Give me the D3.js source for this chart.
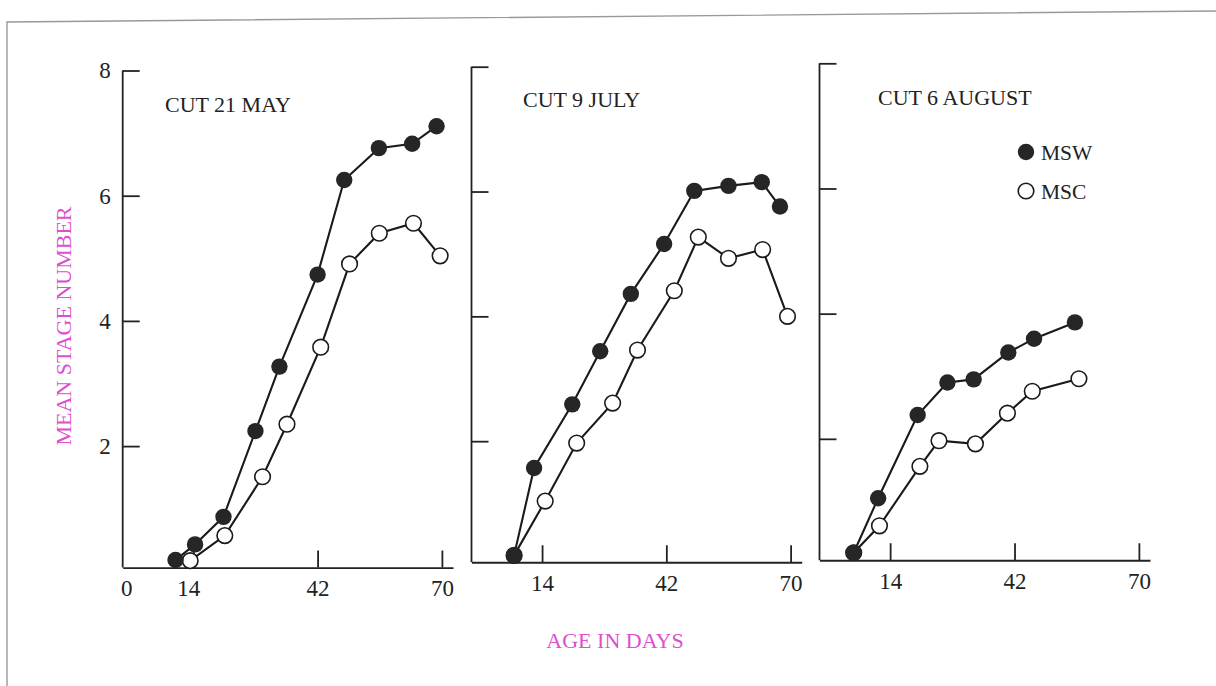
<!DOCTYPE html>
<html>
<head>
<meta charset="utf-8">
<script src="https://cdn.jsdelivr.net/npm/d3@7/dist/d3.min.js"></script>
<style>
body { margin: 0; background: #fff; }
text { font-family: "Liberation Serif", "DejaVu Serif", serif; }
.axis path, .axis line { stroke: #222; stroke-width: 1.8; }
.axis text { font-size: 23px; fill: #222; }
.title { font-size: 22px; fill: #222; }
.legend { font-size: 21.5px; fill: #222; }
.axlabel { font-size: 22px; fill: #dd4fce; }
</style>
</head>
<body>
<svg width="1216" height="686"></svg>
<script>
// values: age in days, mean stage number
var panelTitles = ["CUT 21 MAY", "CUT 9 JULY", "CUT 6 AUGUST"];

var mswDays1 = [10, 14.4, 20.8, 28, 33.4, 42, 48, 55.8, 63.3, 68.8];
var mswVals1 = [0.18, 0.43, 0.87, 2.24, 3.27, 4.74, 6.25, 6.76, 6.83, 7.11];
var mscDays1 = [13.3, 21.1, 29.6, 35.1, 42.7, 49.2, 55.9, 63.6, 69.6];
var mscVals1 = [0.17, 0.57, 1.51, 2.35, 3.58, 4.91, 5.40, 5.56, 5.04];

var mswDays2 = [7.7, 12.2, 20.8, 27.1, 34, 41.5, 48.3, 56, 63.5, 67.6];
var mswVals2 = [0.17, 1.57, 2.59, 3.44, 4.36, 5.16, 6.01, 6.09, 6.15, 5.76];
var mscDays2 = [7.7, 14.7, 21.8, 29.9, 35.5, 43.8, 49.2, 56, 63.7, 69.3];
var mscVals2 = [0.17, 1.04, 1.97, 2.61, 3.46, 4.41, 5.27, 4.93, 5.07, 4.0];

var mswDays3 = [5.8, 11.3, 20.2, 26.9, 32.8, 40.6, 46.4, 55.6];
var mswVals3 = [0.18, 1.05, 2.38, 2.90, 2.95, 3.38, 3.60, 3.86];
var mscDays3 = [5.8, 11.6, 20.7, 25, 33.2, 40.4, 46, 56.5];
var mscVals3 = [0.18, 0.61, 1.56, 1.97, 1.92, 2.41, 2.76, 2.96];

var xTicks1 = [0, 14, 42, 70];
var xTicks = [14, 42, 70];
var yTicks = [2, 4, 6, 8];
var legendNames = ["MSW", "MSC"];

var panels = [
  {title: panelTitles[0], msw: d3.zip(mswDays1, mswVals1), msc: d3.zip(mscDays1, mscVals1), ticks: xTicks1,
   left: 122.7, right: 453, top: 70.5, zero: 571.3, tx: 165, ty: 112, yLabels: true},
  {title: panelTitles[1], msw: d3.zip(mswDays2, mswVals2), msc: d3.zip(mscDays2, mscVals2), ticks: xTicks,
   left: 471.5, right: 801.7, top: 66.7, zero: 566, tx: 523, ty: 107, yLabels: false},
  {title: panelTitles[2], msw: d3.zip(mswDays3, mswVals3), msc: d3.zip(mscDays3, mscVals3), ticks: xTicks,
   left: 819.5, right: 1150, top: 63.3, zero: 564, tx: 878, ty: 105, yLabels: false}
];

var base = 0.06; // the x axis sits a hair above zero in the original

var svg = d3.select("svg");

// scanned page edge
svg.append("path")
  .attr("d", "M7,686 L7,22 L1216,11")
  .attr("fill", "none")
  .attr("stroke", "#999")
  .attr("stroke-width", 1.4);

panels.forEach(function(p, pi) {
  var x = d3.scaleLinear().domain([-1.9, 72.5]).range([p.left, p.right]);
  var y = d3.scaleLinear().domain([0, 8]).range([p.zero, p.top]);
  var g = svg.append("g");

  var xa = g.append("g")
    .attr("class", "axis")
    .attr("transform", "translate(0," + y(base) + ")")
    .call(d3.axisBottom(x).tickValues(p.ticks).tickSizeInner(-17).tickSizeOuter(0).tickPadding(12));
  xa.selectAll(".tick").filter(function(d) { return d === 0; }).select("line").remove();
  // first panel's 0 and 14 labels sit a little left of their ticks
  if (pi === 0) {
    xa.selectAll(".tick").filter(function(d) { return d <= 14; }).select("text").attr("dx", -5);
  }

  var ya = g.append("g")
    .attr("class", "axis")
    .attr("transform", "translate(" + p.left + ",0)")
    .call(d3.axisLeft(y).tickValues(yTicks).tickSizeInner(-17).tickSizeOuter(0).tickPadding(12)
      .tickFormat(p.yLabels ? d3.format("d") : ""));
  ya.select(".domain").remove();
  ya.append("line")
    .attr("x1", 0).attr("x2", 0)
    .attr("y1", y(8)).attr("y2", y(base))
    .attr("stroke", "#222").attr("stroke-width", 1.8);

  g.append("text")
    .attr("class", "title")
    .attr("x", p.tx)
    .attr("y", p.ty)
    .text(p.title);

  var line = d3.line()
    .x(function(d) { return x(d[0]); })
    .y(function(d) { return y(d[1]); });

  [p.msc, p.msw].forEach(function(s) {
    g.append("path")
      .datum(s)
      .attr("d", line)
      .attr("fill", "none")
      .attr("stroke", "#1a1a1a")
      .attr("stroke-width", 2.1);
  });

  g.selectAll(".msc")
    .data(p.msc)
    .enter().append("circle")
    .attr("class", "msc")
    .attr("cx", function(d) { return x(d[0]); })
    .attr("cy", function(d) { return y(d[1]); })
    .attr("r", 7.8)
    .attr("fill", "#fff")
    .attr("stroke", "#1a1a1a")
    .attr("stroke-width", 1.6);

  g.selectAll(".msw")
    .data(p.msw)
    .enter().append("circle")
    .attr("class", "msw")
    .attr("cx", function(d) { return x(d[0]); })
    .attr("cy", function(d) { return y(d[1]); })
    .attr("r", 8.2)
    .attr("fill", "#262626");
});

// legend in the third panel
var leg = svg.append("g").attr("transform", "translate(1026,152)");
leg.selectAll("circle")
  .data(legendNames)
  .enter().append("circle")
  .attr("cx", 0)
  .attr("cy", function(d, i) { return i * 39; })
  .attr("r", function(d, i) { return i === 0 ? 8.2 : 7.8; })
  .attr("fill", function(d, i) { return i === 0 ? "#262626" : "#fff"; })
  .attr("stroke", "#1a1a1a")
  .attr("stroke-width", function(d, i) { return i === 0 ? 0 : 1.6; });
leg.selectAll("text")
  .data(legendNames)
  .enter().append("text")
  .attr("class", "legend")
  .attr("x", 15)
  .attr("y", function(d, i) { return i * 39 + 7.5; })
  .text(function(d) { return d; });

// axis titles
svg.append("text")
  .attr("class", "axlabel")
  .attr("text-anchor", "middle")
  .attr("transform", "translate(71,326) rotate(-90)")
  .text("MEAN STAGE NUMBER");

svg.append("text")
  .attr("class", "axlabel")
  .attr("text-anchor", "middle")
  .attr("x", 615)
  .attr("y", 648)
  .text("AGE IN DAYS");
</script>
</body>
</html>
